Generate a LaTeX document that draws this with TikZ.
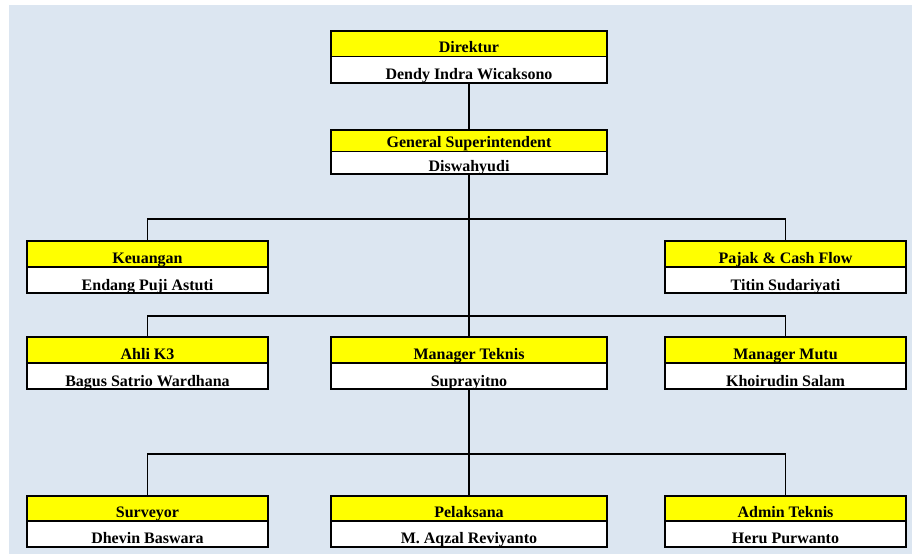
\documentclass[tikz,border=0pt]{standalone}
\usepackage{fontspec}
\setmainfont{Liberation Serif}
\usetikzlibrary{calc}
\definecolor{bgblue}{RGB}{220,230,241}
\definecolor{cellyellow}{RGB}{255,255,0}
\tikzset{
  orgbox/.style={draw=black, line width=2pt, fill=white, inner sep=0pt,
    path picture={
      \fill[cellyellow] (path picture bounding box.north west) rectangle (path picture bounding box.east);
      \draw[black, line width=1.3pt] (path picture bounding box.west) -- (path picture bounding box.east);
    }},
  ttl/.style={anchor=base, inner sep=0pt, font=\bfseries\fontsize{16}{18}\selectfont},
  link/.style={draw=black, line width=1.6pt},
}
\newcommand\orgunit[7]{%
  \node[orgbox, minimum width=#4pt, minimum height=#5pt] (#1) at (#2,#3) {};
  \node[ttl] (#1-t) at ([yshift=4pt]#1.center) {#6};
  \node[ttl] (#1-p) at ([yshift=4pt]#1.south) {#7};
}
\begin{document}
\begin{tikzpicture}[x=1pt,y=-1pt]
\useasboundingbox (0,0) rectangle (914,554);
\fill[bgblue] (9,5) rectangle (912,554);

\coordinate (j1) at (469,219);
\coordinate (j2) at (469,316);
\coordinate (j3) at (469,454);

\orgunit{dir}{469}{56.5}{276}{52}{Direktur}{Dendy Indra Wicaksono}
\orgunit{gs}{469}{151.75}{276}{44.5}{General Superintendent}{Diswahyudi}
\orgunit{keu}{147.5}{267}{241}{52}{Keuangan}{Endang Puji Astuti}
\orgunit{paj}{785.5}{267}{241}{52}{Pajak \& Cash Flow}{Titin Sudariyati}
\orgunit{k3}{147.5}{363}{241}{52}{Ahli K3}{Bagus Satrio Wardhana}
\orgunit{mt}{469}{363}{276}{52}{Manager Teknis}{Suprayitno}
\orgunit{mm}{785.5}{363}{241}{52}{Manager Mutu}{Khoirudin Salam}
\orgunit{sur}{147.5}{521}{241}{51}{Surveyor}{Dhevin Baswara}
\orgunit{pel}{469}{521}{276}{51}{Pelaksana}{M. Aqzal Reviyanto}
\orgunit{adm}{785.5}{521}{241}{51}{Admin Teknis}{Heru Purwanto}

\draw[link] (dir.south) -- (gs.north);
\draw[link] (gs.south) -- (mt.north);
\draw[link] (keu.north) |- (j1) -| (paj.north);
\draw[link] (k3.north) |- (j2) -| (mm.north);
\draw[link] (mt.south) -- (pel.north);
\draw[link] (sur.north) |- (j3) -| (adm.north);
\end{tikzpicture}
\end{document}
